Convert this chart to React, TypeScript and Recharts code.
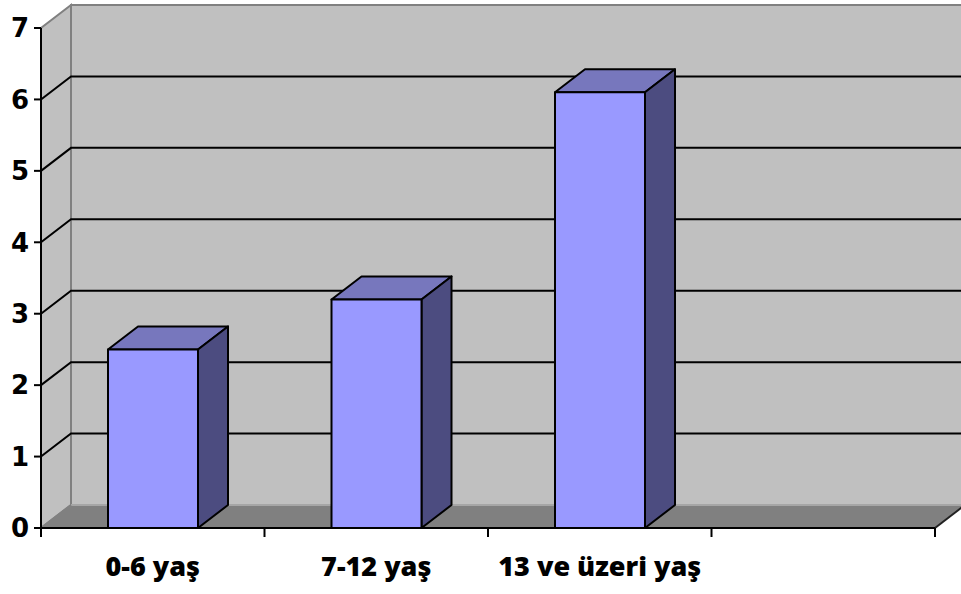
import React from 'react';
import { BarChart, Bar, XAxis, YAxis, CartesianGrid, ReferenceArea } from 'recharts';

const categories = ['0-6 yaş', '7-12 yaş', '13 ve üzeri yaş', ''];
const counts = [2.5, 3.2, 6.1, null];
const yTicks = [0, 1, 2, 3, 4, 5, 6, 7];

const data = categories.map((name, i) => ({ name, value: counts[i] }));

// oblique depth of the 3D box
const DX = 30;
const DY = -23;

const X_TICK_SIZE = 9;
const X_TICK_MARGIN = 20;

const WALL = '#c0c0c0';
const FLOOR = '#808080';
const EDGE = '#808080';

const Walls = (props: any) => {
  const { x, y, width, height } = props;
  const b = y + height;
  const r = x + width;
  return (
    <g>
      {/* back wall */}
      <rect x={x + DX} y={y + DY} width={width + 10} height={height} fill={WALL} stroke={EDGE} strokeWidth={2} />
      {/* side wall */}
      <polygon
        points={`${x},${b} ${x + DX},${b + DY} ${x + DX},${y + DY} ${x},${y}`}
        fill={WALL}
        stroke={EDGE}
        strokeWidth={2}
      />
      {/* floor */}
      <polygon points={`${x},${b} ${x + DX},${b + DY} ${r + DX},${b + DY} ${r},${b}`} fill={FLOOR} stroke="none" />
      <line x1={x + DX} y1={b + DY} x2={r + DX} y2={b + DY} stroke="#a6a6a6" strokeWidth={2} />
      <line x1={x} y1={b} x2={x + DX} y2={b + DY} stroke={EDGE} strokeWidth={2} />
      <line x1={r} y1={b} x2={r + DX} y2={b + DY} stroke="#222" strokeWidth={2} />
    </g>
  );
};

const GridLine = (props: any) => {
  const { x1, y1, x2, y2, y, height } = props;
  if (Math.abs(y1 - y) < 1 || Math.abs(y1 - (y + height)) < 1) return <g />;
  return (
    <polyline
      points={`${x1},${y1} ${x1 + DX},${y1 + DY} ${x2 + DX},${y2 + DY}`}
      fill="none"
      stroke="#000"
      strokeWidth={2}
    />
  );
};

const Column = (props: any) => {
  const { x, y, width, height } = props;
  if (height == null || height <= 0) return <g />;
  const r = x + width;
  const b = y + height;
  return (
    <g stroke="#000" strokeWidth={2} strokeLinejoin="round">
      <polygon points={`${x},${y} ${x + DX},${y + DY} ${r + DX},${y + DY} ${r},${y}`} fill="#7777bd" />
      <polygon points={`${r},${y} ${r + DX},${y + DY} ${r + DX},${b + DY} ${r},${b}`} fill="#4c4c80" />
      <rect x={x} y={y} width={width} height={height} fill="#9999ff" />
    </g>
  );
};

const CategoryTick = (props: any) => {
  const { x, y, payload, index } = props;
  const axisY = y - X_TICK_SIZE - X_TICK_MARGIN;
  const half = payload.offset ?? 111.75;
  const last = index === categories.length - 1;
  return (
    <g>
      <line x1={x - half} y1={axisY} x2={x - half} y2={axisY + X_TICK_SIZE} stroke="#000" strokeWidth={2} />
      {last && <line x1={x + half} y1={axisY} x2={x + half} y2={axisY + X_TICK_SIZE} stroke="#000" strokeWidth={2} />}
      <text
        x={x}
        y={y}
        dy="0.71em"
        textAnchor="middle"
        fontFamily="'Open Sans', sans-serif"
        fontWeight={800}
        fontSize={27}
        fill="#000"
      >
        {payload.value}
      </text>
    </g>
  );
};

export default function App() {
  return (
    <div style={{ position: 'absolute', left: 0, top: 0, width: 961, height: 594, background: '#fff' }}>
      <BarChart width={961} height={594} data={data} margin={{ top: 28, right: 26, bottom: 0, left: 0 }}>
        <ReferenceArea y1={0} y2={7} shape={Walls} zIndex={-200} ifOverflow="visible" />
        <CartesianGrid horizontal={GridLine} vertical={false} stroke="#000" />
        <XAxis
          dataKey="name"
          height={66}
          interval={0}
          tickLine={false}
          tickSize={X_TICK_SIZE}
          tickMargin={X_TICK_MARGIN}
          axisLine={{ stroke: '#000', strokeWidth: 2 }}
          tick={CategoryTick}
        />
        <YAxis
          width={41}
          domain={[0, 7]}
          ticks={yTicks}
          interval={0}
          tickSize={7}
          tickMargin={5}
          axisLine={{ stroke: '#000', strokeWidth: 2 }}
          tickLine={{ stroke: '#000', strokeWidth: 2 }}
          tick={{ fill: '#000', fontFamily: "'DejaVu Sans', sans-serif", fontWeight: 'bold', fontSize: 26 }}
        />
        <Bar dataKey="value" barSize={90} shape={Column} isAnimationActive={false} />
      </BarChart>
    </div>
  );
}
